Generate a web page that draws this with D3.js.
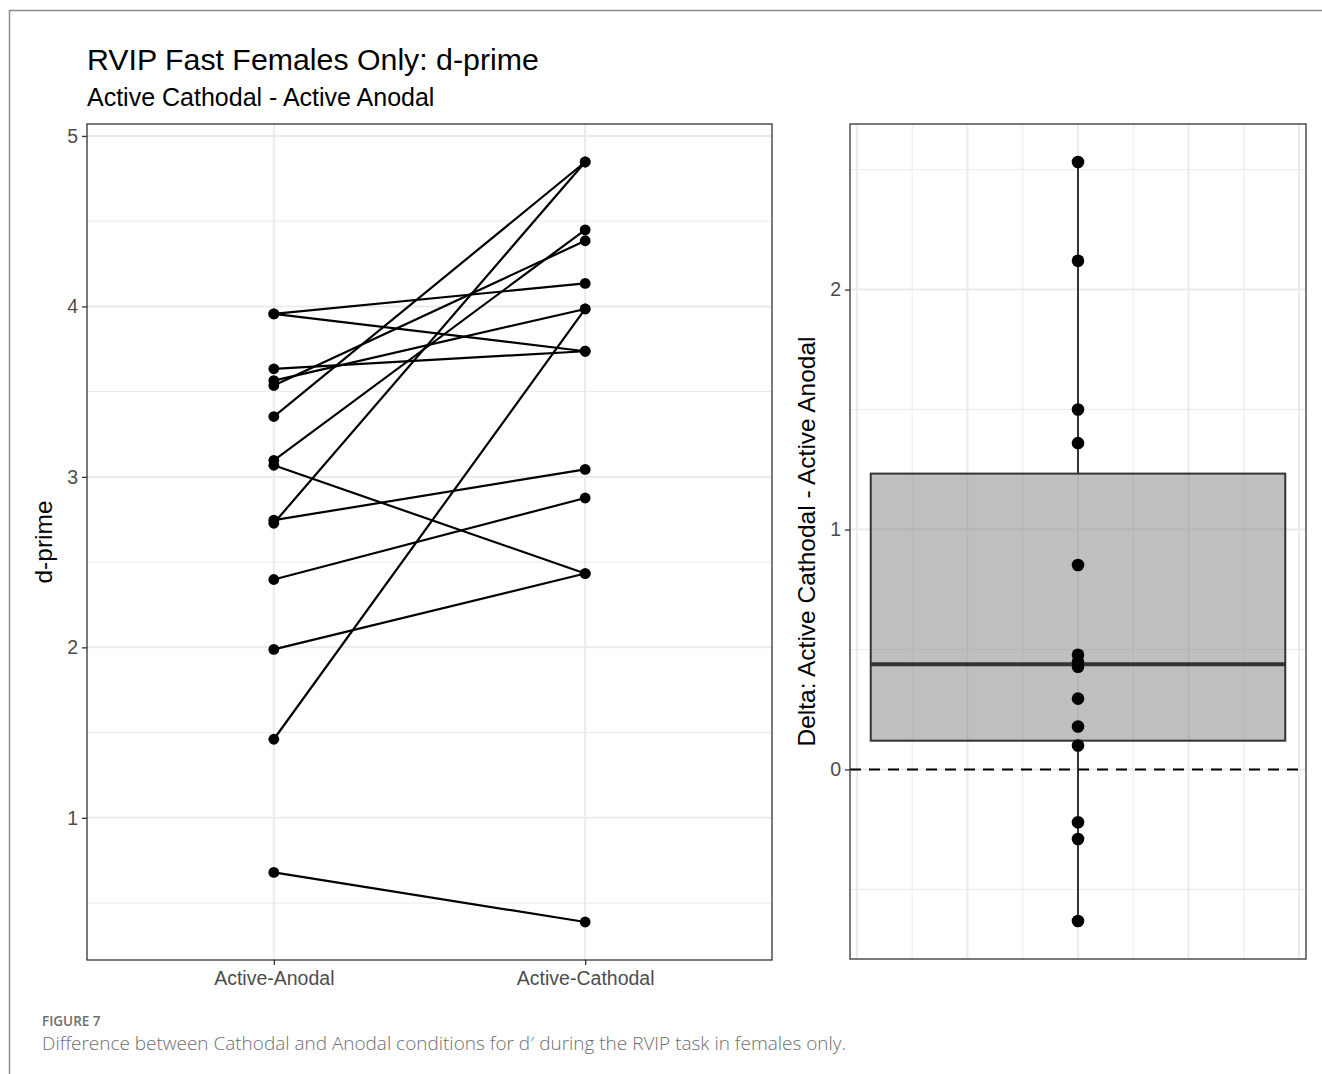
<!DOCTYPE html>
<html>
<head>
<meta charset="utf-8">
<script src="https://cdn.jsdelivr.net/npm/d3@7"></script>
<style>
  html, body { margin: 0; padding: 0; background: #fff; }
  svg { display: block; }
</style>
</head>
<body>
<svg id="chart" width="1322" height="1074"></svg>
<script>
// ---------------- data ----------------
const categories = ["Active-Anodal", "Active-Cathodal"];
// paired d-prime values per participant (Anodal -> Cathodal)
const anodal   = [3.956, 3.956, 3.634, 3.565, 3.536, 3.354, 3.097, 3.068, 2.746, 2.728, 2.398, 1.988, 1.461, 0.680];
const cathodal = [4.135, 3.737, 3.737, 3.985, 4.385, 4.847, 4.449, 2.433, 3.044, 4.847, 2.876, 2.433, 3.985, 0.389];
// delta values shown in the right panel
const delta = [2.532, 2.12, 1.50, 1.36, 0.852, 0.478, 0.449, 0.428, 0.295, 0.179, 0.10, -0.22, -0.29, -0.632];
const leftTicks = [1, 2, 3, 4, 5];
const leftMinor = [0.5, 1.5, 2.5, 3.5, 4.5];
const rightTicks = [0, 1, 2];
const rightMinor = [-0.5, 0.5, 1.5, 2.5];
const rightXMajor = [-0.4, -0.2, 0, 0.2, 0.4];
const rightXMinor = [-0.3, -0.1, 0.1, 0.3];

const titleText = "RVIP Fast Females Only: d-prime";
const subtitleText = "Active Cathodal - Active Anodal";
const leftYLabel = "d-prime";
const rightYLabel = "Delta: Active Cathodal - Active Anodal";
const figLabel = "FIGURE 7";
const captionText = "Difference between Cathodal and Anodal conditions for d\u2032 during the RVIP task in females only.";

// ---------------- setup ----------------
const svg = d3.select("#chart");
const FONT = "'Liberation Sans', Arial, sans-serif";
const GRID = "#EBEBEB";
const AX = "#333333";
const TICKTXT = "#4D4D4D";

// outer frame
svg.append("path")
  .attr("d", "M9.5,1074 L9.5,10.5 L1322,10.5")
  .attr("fill", "none").attr("stroke", "#8c8c8c").attr("stroke-width", 1.5);

// titles
svg.append("text").attr("x", 87).attr("y", 70)
  .attr("font-family", FONT).attr("font-size", 30.3).attr("fill", "#000").text(titleText);
svg.append("text").attr("x", 87).attr("y", 105.5)
  .attr("font-family", FONT).attr("font-size", 25).attr("fill", "#000").text(subtitleText);

// ---------------- left panel ----------------
const L = { x0: 87, x1: 772, y0: 124, y1: 960 };
const allVals = anodal.concat(cathodal);
const [lmin, lmax] = d3.extent(allVals);
const lpad = (lmax - lmin) * 0.05;
const yL = d3.scaleLinear().domain([lmin - lpad, lmax + lpad]).range([L.y1, L.y0]);
const xL = d3.scalePoint().domain(categories).range([L.x0, L.x1]).padding(0.6);

const gL = svg.append("g");
gL.append("rect").attr("x", L.x0).attr("y", L.y0).attr("width", L.x1 - L.x0).attr("height", L.y1 - L.y0).attr("fill", "#fff");
gL.selectAll(".minor").data(leftMinor).join("line")
  .attr("x1", L.x0).attr("x2", L.x1).attr("y1", d => yL(d)).attr("y2", d => yL(d))
  .attr("stroke", GRID).attr("stroke-width", 1);
gL.selectAll(".major").data(leftTicks).join("line")
  .attr("x1", L.x0).attr("x2", L.x1).attr("y1", d => yL(d)).attr("y2", d => yL(d))
  .attr("stroke", GRID).attr("stroke-width", 2);
gL.selectAll(".vmajor").data(categories).join("line")
  .attr("x1", d => xL(d)).attr("x2", d => xL(d)).attr("y1", L.y0).attr("y2", L.y1)
  .attr("stroke", GRID).attr("stroke-width", 2);

// paired lines
const pairs = anodal.map((a, i) => ({ a, c: cathodal[i] }));
gL.selectAll(".pair").data(pairs).join("line")
  .attr("x1", xL(categories[0])).attr("x2", xL(categories[1]))
  .attr("y1", d => yL(d.a)).attr("y2", d => yL(d.c))
  .attr("stroke", "#000").attr("stroke-width", 2.2);
gL.selectAll(".pa").data(anodal).join("circle")
  .attr("cx", xL(categories[0])).attr("cy", d => yL(d)).attr("r", 5.4).attr("fill", "#000");
gL.selectAll(".pc").data(cathodal).join("circle")
  .attr("cx", xL(categories[1])).attr("cy", d => yL(d)).attr("r", 5.4).attr("fill", "#000");

gL.append("rect").attr("x", L.x0).attr("y", L.y0).attr("width", L.x1 - L.x0).attr("height", L.y1 - L.y0)
  .attr("fill", "none").attr("stroke", AX).attr("stroke-width", 1.3);

// left axes
const axLY = svg.append("g").attr("transform", `translate(${L.x0},0)`)
  .call(d3.axisLeft(yL).tickValues(leftTicks).tickSize(5).tickPadding(4).tickFormat(d3.format("d")));
axLY.select(".domain").remove();
axLY.selectAll(".tick line").attr("stroke", AX).attr("stroke-width", 1.3);
axLY.selectAll(".tick text").attr("font-family", FONT).attr("font-size", 19.5).attr("fill", TICKTXT);

const axLX = svg.append("g").attr("transform", `translate(0,${L.y1})`)
  .call(d3.axisBottom(xL).tickSize(5).tickPadding(6));
axLX.select(".domain").remove();
axLX.selectAll(".tick line").attr("stroke", AX).attr("stroke-width", 1.3);
axLX.selectAll(".tick text").attr("font-family", FONT).attr("font-size", 19.5).attr("fill", TICKTXT);

svg.append("text")
  .attr("transform", `translate(52,${(L.y0 + L.y1) / 2}) rotate(-90)`)
  .attr("text-anchor", "middle").attr("font-family", FONT).attr("font-size", 24.5).attr("fill", "#000")
  .text(leftYLabel);

// ---------------- right panel ----------------
const R = { x0: 850, x1: 1306, y0: 124, y1: 959 };
const [rmin, rmax] = d3.extent(delta);
const rpad = (rmax - rmin) * 0.05;
const yR = d3.scaleLinear().domain([rmin - rpad, rmax + rpad]).range([R.y1, R.y0]);
const boxHalf = 0.375;
const xR = d3.scaleLinear().domain([-boxHalf * 1.1, boxHalf * 1.1]).range([R.x0, R.x1]);

const gR = svg.append("g");
gR.append("rect").attr("x", R.x0).attr("y", R.y0).attr("width", R.x1 - R.x0).attr("height", R.y1 - R.y0).attr("fill", "#fff");
gR.selectAll(".hmin").data(rightMinor).join("line")
  .attr("x1", R.x0).attr("x2", R.x1).attr("y1", d => yR(d)).attr("y2", d => yR(d))
  .attr("stroke", GRID).attr("stroke-width", 1);
gR.selectAll(".vmin").data(rightXMinor).join("line")
  .attr("x1", d => xR(d)).attr("x2", d => xR(d)).attr("y1", R.y0).attr("y2", R.y1)
  .attr("stroke", GRID).attr("stroke-width", 1);
gR.selectAll(".hmaj").data(rightTicks).join("line")
  .attr("x1", R.x0).attr("x2", R.x1).attr("y1", d => yR(d)).attr("y2", d => yR(d))
  .attr("stroke", GRID).attr("stroke-width", 2);
gR.selectAll(".vmaj").data(rightXMajor).join("line")
  .attr("x1", d => xR(d)).attr("x2", d => xR(d)).attr("y1", R.y0).attr("y2", R.y1)
  .attr("stroke", GRID).attr("stroke-width", 2);

// box stats
const sorted = delta.slice().sort(d3.ascending);
const q1 = d3.quantile(sorted, 0.25), med = d3.quantile(sorted, 0.5), q3 = d3.quantile(sorted, 0.75);
const iqr = q3 - q1;
const wLo = d3.min(sorted.filter(v => v >= q1 - 1.5 * iqr));
const wHi = d3.max(sorted.filter(v => v <= q3 + 1.5 * iqr));

gR.append("line").attr("x1", xR(0)).attr("x2", xR(0)).attr("y1", yR(q3)).attr("y2", yR(wHi))
  .attr("stroke", AX).attr("stroke-width", 2);
gR.append("line").attr("x1", xR(0)).attr("x2", xR(0)).attr("y1", yR(q1)).attr("y2", yR(wLo))
  .attr("stroke", AX).attr("stroke-width", 2);
gR.append("rect").attr("x", xR(-boxHalf)).attr("y", yR(q3))
  .attr("width", xR(boxHalf) - xR(-boxHalf)).attr("height", yR(q1) - yR(q3))
  .attr("fill", "#808080").attr("fill-opacity", 0.5).attr("stroke", AX).attr("stroke-width", 2);
gR.append("line").attr("x1", xR(-boxHalf)).attr("x2", xR(boxHalf)).attr("y1", yR(med)).attr("y2", yR(med))
  .attr("stroke", AX).attr("stroke-width", 4);

// reference line at 0
gR.append("line").attr("x1", R.x0).attr("x2", R.x1).attr("y1", yR(0)).attr("y2", yR(0))
  .attr("stroke", "#000").attr("stroke-width", 2).attr("stroke-dasharray", "11,8");

gR.selectAll(".pd").data(delta).join("circle")
  .attr("cx", xR(0)).attr("cy", d => yR(d)).attr("r", 6.3).attr("fill", "#000");

gR.append("rect").attr("x", R.x0).attr("y", R.y0).attr("width", R.x1 - R.x0).attr("height", R.y1 - R.y0)
  .attr("fill", "none").attr("stroke", AX).attr("stroke-width", 1.3);

const axRY = svg.append("g").attr("transform", `translate(${R.x0},0)`)
  .call(d3.axisLeft(yR).tickValues(rightTicks).tickSize(5).tickPadding(4).tickFormat(d3.format("d")));
axRY.select(".domain").remove();
axRY.selectAll(".tick line").attr("stroke", AX).attr("stroke-width", 1.3);
axRY.selectAll(".tick text").attr("font-family", FONT).attr("font-size", 19.5).attr("fill", TICKTXT);

svg.append("text")
  .attr("transform", `translate(815,${(R.y0 + R.y1) / 2}) rotate(-90)`)
  .attr("text-anchor", "middle").attr("font-family", FONT).attr("font-size", 24.5).attr("fill", "#000")
  .text(rightYLabel);

// ---------------- caption ----------------
svg.append("text").attr("x", 42).attr("y", 1026)
  .attr("font-family", "'Open Sans', 'Noto Sans', sans-serif").attr("font-size", 13.5).attr("font-weight", 600)
  .attr("fill", "#6d6e71").text(figLabel);
svg.append("text").attr("x", 42).attr("y", 1050)
  .attr("font-family", "'Open Sans', 'Noto Sans', sans-serif").attr("font-size", 19).attr("font-weight", 300)
  .attr("fill", "#6d6e71").attr("textLength", 804).attr("lengthAdjust", "spacingAndGlyphs")
  .text(captionText);
</script>
</body>
</html>
